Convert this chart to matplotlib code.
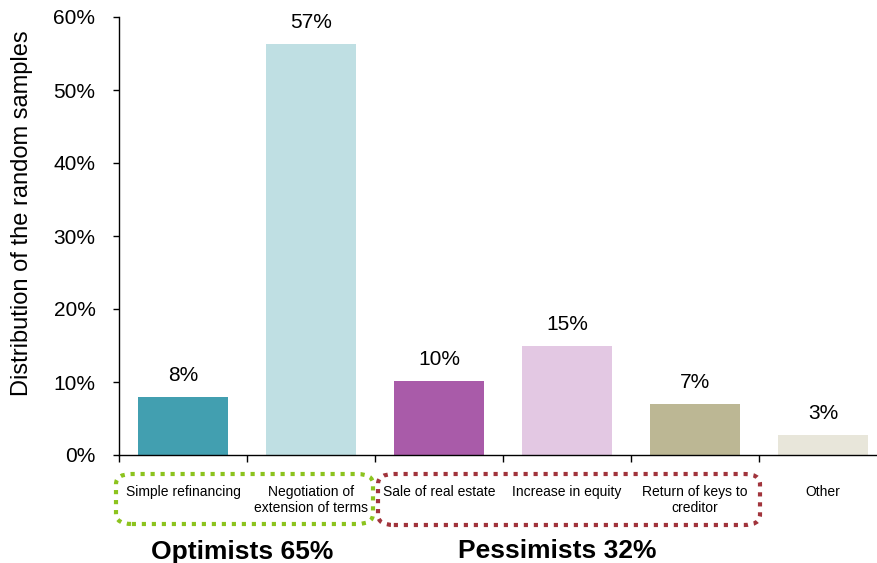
import matplotlib
matplotlib.use("Agg")
import matplotlib.pyplot as plt
from matplotlib.patches import FancyBboxPatch
from matplotlib.ticker import FuncFormatter, FixedLocator

categories = ["Simple refinancing", "Negotiation of\nextension of terms", "Sale of real estate",
              "Increase in equity", "Return of keys to\ncreditor", "Other"]
values = [0.080, 0.563, 0.101, 0.150, 0.070, 0.028]
value_labels = ["8%", "57%", "10%", "15%", "7%", "3%"]
colors = ["#429fb0", "#bfdfe3", "#a95ba9", "#e3c8e3", "#bcb794", "#e8e6da"]
group_labels = ["Optimists 65%", "Pessimists 32%"]
yticks = [0, 0.1, 0.2, 0.3, 0.4, 0.5, 0.6]

plt.rcParams['font.family'] = ['Liberation Sans', 'DejaVu Sans']

W, H = 878, 563
fig = plt.figure(figsize=(W / 100, H / 100), dpi=100)
ax = fig.add_axes([119 / W, 1 - 455 / H, (W - 119) / W, (455 - 17) / H])

x = list(range(len(categories)))
ax.bar(x, values, width=0.70, color=colors, zorder=2)
for xi, v, lab in zip(x, values, value_labels):
    ax.annotate(lab, (xi, v), xytext=(0, 11.5), textcoords="offset points",
                ha="center", va="baseline", fontsize=15, color="black")

ax.set_ylim(0, 0.6)
ax.set_xlim(-0.5, 5.43)
ax.set_yticks(yticks)
ax.yaxis.set_major_formatter(FuncFormatter(lambda v, p: f"{v*100:.0f}%"))
ax.tick_params(axis="y", direction="out", length=4.5, labelsize=15, width=1, pad=12.5)

ax.set_xticks(x)
ax.set_xticklabels(categories, fontsize=10, linespacing=1.2)
ax.tick_params(axis="x", which="major", length=0, pad=21.5)
ax.xaxis.set_minor_locator(FixedLocator([i - 0.5 for i in range(len(categories))]))
ax.tick_params(axis="x", which="minor", direction="out", length=5, width=1)
for lbl in ax.get_xticklabels():
    lbl.set_verticalalignment("top")

for s in ["top", "right"]:
    ax.spines[s].set_visible(False)
ax.spines["left"].set_linewidth(1)
ax.spines["bottom"].set_linewidth(1)

fig.text(22 / W, 1 - 213 / H, "Distribution of the random samples", rotation=90,
         ha="center", va="center", fontsize=17)

def box(x0, y0, x1, y1, color):
    p = FancyBboxPatch((x0 / W, 1 - y1 / H), (x1 - x0) / W, (y1 - y0) / H,
                       boxstyle="round,pad=0,rounding_size=0.018",
                       transform=fig.transFigure, fill=False, edgecolor=color,
                       linestyle=(0, (1, 1.4)), linewidth=3)
    fig.add_artist(p)

box(116, 474, 373, 524, "#8cc31e")
box(378, 474, 760, 525, "#a1343c")

fig.text(242 / W, 1 - 559 / H, group_labels[0], ha="center", va="baseline",
         fontsize=19, fontweight="bold")
fig.text(557 / W, 1 - 558 / H, group_labels[1], ha="center", va="baseline",
         fontsize=19, fontweight="bold")

fig.savefig("out.png", dpi=100)
